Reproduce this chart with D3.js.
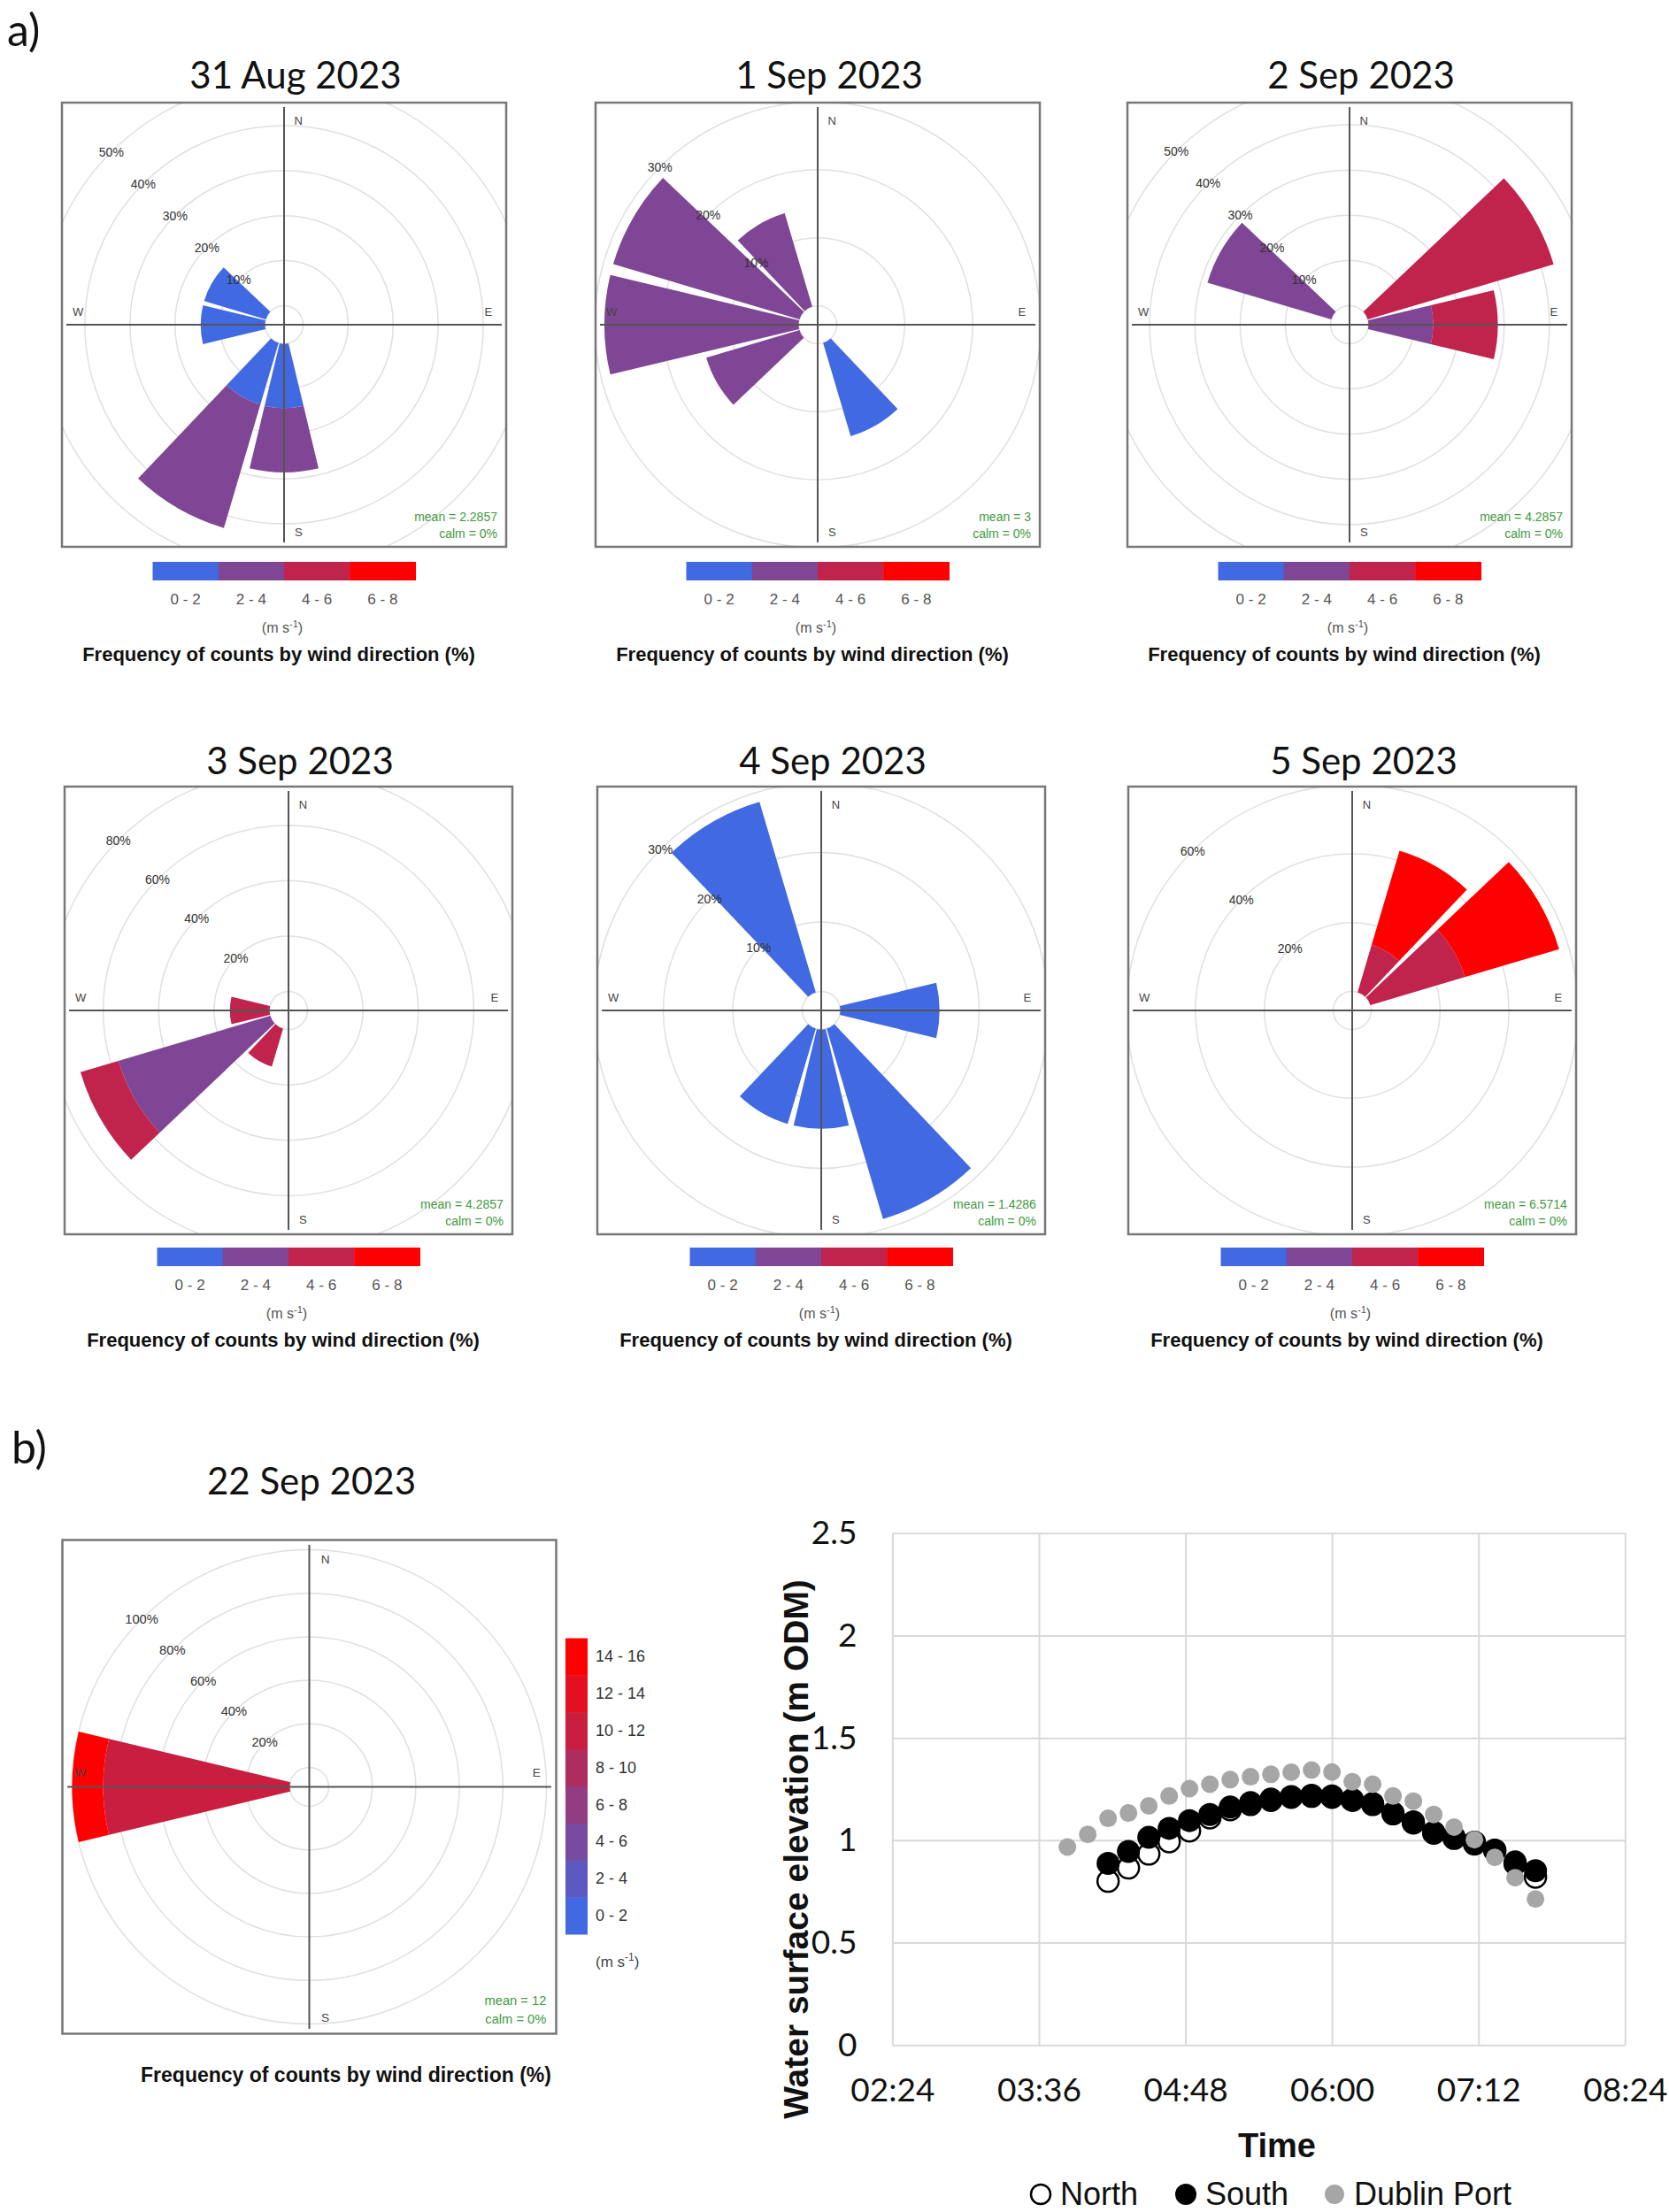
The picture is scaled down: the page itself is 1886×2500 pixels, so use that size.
<!DOCTYPE html>
<html>
<head>
<meta charset="utf-8">
<script src="https://cdn.jsdelivr.net/npm/d3@7"></script>
<style>
  body { margin: 0; background: #fff; }
  text { font-family: "Liberation Sans", Arial, sans-serif; }
  .cal { font-family: Lato, "Open Sans", sans-serif; }
</style>
</head>
<body>
<svg id="fig" width="1886" height="2500"></svg>
<script>
// ---- wind rose data (percent of counts, per speed bin) ----
const roseDates = ["31 Aug 2023", "1 Sep 2023", "2 Sep 2023", "3 Sep 2023", "4 Sep 2023", "5 Sep 2023"];
const roseMeans = ["2.2857", "3", "4.2857", "4.2857", "1.4286", "6.5714"];
const roseTicks = [[10, 20, 30, 40, 50], [10, 20, 30], [10, 20, 30, 40, 50], [20, 40, 60, 80], [10, 20, 30], [20, 40, 60]];
const speedBins = ["0 - 2", "2 - 4", "4 - 6", "6 - 8"];
// [direction, 0-2, 2-4, 4-6, 6-8]
const aug31 = [[300, 14.29, 0, 0, 0], [270, 14.29, 0, 0, 0], [210, 14.29, 28.57, 0, 0], [180, 14.29, 14.29, 0, 0]];
const sep1 = [[330, 0, 14.29, 0, 0], [300, 0, 28.57, 0, 0], [270, 0, 28.57, 0, 0], [240, 0, 14.29, 0, 0], [150, 14.29, 0, 0, 0]];
const sep2 = [[300, 0, 28.57, 0, 0], [60, 0, 0, 42.86, 0], [90, 0, 14.29, 14.29, 0]];
const sep3 = [[270, 0, 0, 14.29, 0], [240, 0, 57.14, 14.29, 0], [210, 0, 0, 14.29, 0]];
const sep4 = [[330, 28.57, 0, 0, 0], [90, 14.29, 0, 0, 0], [150, 28.57, 0, 0, 0], [180, 14.29, 0, 0, 0], [210, 14.29, 0, 0, 0]];
const sep5 = [[30, 0, 0, 14.29, 28.57], [60, 0, 0, 28.57, 28.57]];
const rosePetals = [aug31, sep1, sep2, sep3, sep4, sep5];

const sep22Date = "22 Sep 2023";
const sep22Mean = "12";
const sep22Ticks = [20, 40, 60, 80, 100];
const speedBins22 = ["0 - 2", "2 - 4", "4 - 6", "6 - 8", "8 - 10", "10 - 12", "12 - 14", "14 - 16"];
const sep22 = [[270, 0, 0, 0, 0, 0, 85.71, 0, 14.29]];

// ---- water level data (m ODM) ----
const xTickLabels = ["02:24", "03:36", "04:48", "06:00", "07:12", "08:24"];
const yTickValues = [0, 0.5, 1, 1.5, 2, 2.5];
const portTimes = ["03:50", "04:00", "04:10", "04:20", "04:30", "04:40", "04:50", "05:00", "05:10", "05:20", "05:30", "05:40",
  "05:50", "06:00", "06:10", "06:20", "06:30", "06:40", "06:50", "07:00", "07:10", "07:20", "07:30", "07:40"];
const portLevel = [0.967, 1.029, 1.107, 1.133, 1.168, 1.216, 1.252, 1.274, 1.296, 1.310, 1.322, 1.332,
  1.343, 1.333, 1.286, 1.274, 1.216, 1.191, 1.126, 1.064, 1.003, 0.916, 0.817, 0.713];
const siteTimes = ["04:10", "04:20", "04:30", "04:40", "04:50", "05:00", "05:10", "05:20", "05:30", "05:40",
  "05:50", "06:00", "06:10", "06:20", "06:30", "06:40", "06:50", "07:00", "07:10", "07:20", "07:30", "07:40"];
const northLevel = [0.800, 0.865, 0.933, 0.993, 1.046, 1.11, 1.15, 1.175, 1.195, 1.21,
  1.215, 1.21, 1.195, 1.175, 1.13, 1.085, 1.035, 1.01, 0.99, 0.95, 0.885, 0.82];
const southLevel = [0.887, 0.945, 1.014, 1.058, 1.096, 1.126, 1.162, 1.184, 1.201, 1.213,
  1.220, 1.217, 1.199, 1.180, 1.133, 1.090, 1.039, 1.017, 0.981, 0.952, 0.894, 0.851];

const svg = d3.select("#fig");
svg.append("rect").attr("width", 1886).attr("height", 2500).attr("fill", "#fff");

const ramp = (n) => d3.range(n).map((i) => d3.interpolateRgb("#4169e1", "#ff0000")(i / (n - 1)));

function drawRose(o) {
  const h = o.half;
  const k = o.fs;
  const g = svg.append("g").attr("transform", `translate(${o.cx},${o.cy})`);
  const clipId = `rose-clip-${o.id}`;
  g.append("clipPath").attr("id", clipId)
    .append("rect").attr("x", -h).attr("y", -h).attr("width", 2 * h).attr("height", 2 * h);
  const inner = g.append("g").attr("clip-path", `url(#${clipId})`);

  const r = d3.scaleLinear().domain([0, d3.max(o.ticks)]).range([o.r0, o.rMax]);

  inner.selectAll("circle")
    .data([0, ...o.ticks])
    .enter()
    .append("circle")
    .attr("r", (d) => r(d))
    .attr("fill", "none")
    .attr("stroke", "#e0e0e0")
    .attr("stroke-width", 1.5);

  const colors = ramp(o.nBins);
  const segs = [];
  o.petals.forEach((p) => {
    let cum = 0;
    p.slice(1).forEach((v, i) => {
      if (v > 0) {
        segs.push({ dir: p[0], a: cum, b: cum + v, bin: i });
        cum += v;
      }
    });
  });
  const arc = d3.arc();
  inner.selectAll("path")
    .data(segs)
    .enter()
    .append("path")
    .attr("d", (s) => arc({
      innerRadius: r(s.a),
      outerRadius: r(s.b),
      startAngle: ((s.dir - 13.5) * Math.PI) / 180,
      endAngle: ((s.dir + 13.5) * Math.PI) / 180,
    }))
    .attr("fill", (s) => colors[s.bin]);

  const ext = 0.98 * h;
  g.append("line").attr("x1", -ext).attr("x2", ext).attr("y1", 0).attr("y2", 0)
    .attr("stroke", "#555").attr("stroke-width", 2);
  g.append("line").attr("y1", -ext).attr("y2", ext).attr("x1", 0).attr("x2", 0)
    .attr("stroke", "#555").attr("stroke-width", 2);

  g.selectAll("text.ring")
    .data(o.ticks)
    .enter()
    .append("text")
    .attr("x", (d) => -r(d) * Math.SQRT1_2)
    .attr("y", (d) => -r(d) * Math.SQRT1_2)
    .attr("text-anchor", "middle")
    .attr("dominant-baseline", "central")
    .attr("fill", "#333")
    .style("font-size", `${14 * k}px`)
    .text((d) => `${d}%`);

  const card = [["N", 0.065, -0.92], ["E", 0.92, -0.056], ["S", 0.065, 0.935], ["W", -0.928, -0.056]];
  g.selectAll("text.card")
    .data(card)
    .enter()
    .append("text")
    .attr("x", (d) => d[1] * h)
    .attr("y", (d) => d[2] * h)
    .attr("text-anchor", "middle")
    .attr("dominant-baseline", "central")
    .attr("fill", "#444")
    .style("font-size", `${13 * k}px`)
    .text((d) => d[0]);

  g.append("text").attr("x", 0.96 * h).attr("y", 0.865 * h)
    .attr("text-anchor", "end").attr("dominant-baseline", "central")
    .attr("fill", "#3f9a3f").style("font-size", `${14 * k}px`)
    .text(`mean = ${o.mean}`);
  g.append("text").attr("x", 0.96 * h).attr("y", 0.94 * h)
    .attr("text-anchor", "end").attr("dominant-baseline", "central")
    .attr("fill", "#3f9a3f").style("font-size", `${14 * k}px`)
    .text("calm = 0%");

  g.append("rect").attr("x", -h).attr("y", -h).attr("width", 2 * h).attr("height", 2 * h)
    .attr("fill", "none").attr("stroke", "#777").attr("stroke-width", 2.5);

  svg.append("text").attr("class", "cal")
    .attr("x", o.cx + o.titleDx).attr("y", o.cy + o.titleDy)
    .attr("text-anchor", "middle").attr("fill", "#111")
    .style("font-size", "42px")
    .text(o.title);
}

function msLabel(sel) {
  sel.append("tspan").text("(m s");
  sel.append("tspan").attr("baseline-shift", "super").style("font-size", "70%").text("-1");
  sel.append("tspan").text(")");
}

function drawHLegend(cx, cy, labels) {
  const colors = ramp(labels.length);
  const x = d3.scaleBand().domain(labels).range([cx - 148.5, cx + 148.5]);
  const g = svg.append("g");
  g.selectAll("rect")
    .data(labels)
    .enter()
    .append("rect")
    .attr("x", (d) => x(d))
    .attr("y", cy + 268)
    .attr("width", x.bandwidth() + 0.5)
    .attr("height", 21)
    .attr("fill", (d, i) => colors[i]);
  g.selectAll("text.lab")
    .data(labels)
    .enter()
    .append("text")
    .attr("x", (d) => x(d) + x.bandwidth() / 2)
    .attr("y", cy + 316)
    .attr("text-anchor", "middle")
    .attr("fill", "#555")
    .style("font-size", "17px")
    .text((d) => d);
  g.append("text").attr("x", cx - 2).attr("y", cy + 348)
    .attr("text-anchor", "middle").attr("fill", "#555").style("font-size", "16px")
    .call(msLabel);
  g.append("text").attr("x", cx - 6).attr("y", cy + 380)
    .attr("text-anchor", "middle").attr("fill", "#111")
    .style("font-size", "22px").style("font-weight", "bold")
    .text("Frequency of counts by wind direction (%)");
}

// ---- panel a ----
svg.append("text").attr("class", "cal").attr("x", 8).attr("y", 52)
  .style("font-size", "50px").attr("fill", "#111").text("a)");

const panelCentres = [[321, 367], [924, 367], [1525, 367], [326, 1142], [928, 1142], [1528, 1142]];
const panelOuter = [276, 252, 277, 272, 257, 255];

roseDates.forEach((date, i) => {
  const [cx, cy] = panelCentres[i];
  drawRose({
    id: i, cx, cy, half: i < 3 ? 251 : 253, r0: 21.5, rMax: panelOuter[i],
    ticks: roseTicks[i], petals: rosePetals[i], nBins: speedBins.length,
    mean: roseMeans[i], fs: 1, title: date, titleDx: 13, titleDy: -267,
  });
  drawHLegend(cx, cy, speedBins);
});

// ---- panel b: wind rose ----
svg.append("text").attr("class", "cal").attr("x", 13).attr("y", 1654)
  .style("font-size", "50px").attr("fill", "#111").text("b)");

drawRose({
  id: "b", cx: 349.5, cy: 2019.5, half: 279, r0: 22, rMax: 268,
  ticks: sep22Ticks, petals: sep22, nBins: speedBins22.length,
  mean: sep22Mean, fs: 1.05, title: sep22Date, titleDx: 2.5, titleDy: -331,
});

{
  const colors = ramp(speedBins22.length);
  const y = d3.scaleBand().domain(speedBins22.slice().reverse()).range([1851.5, 2186]);
  const g = svg.append("g");
  g.selectAll("rect")
    .data(speedBins22)
    .enter()
    .append("rect")
    .attr("x", 639)
    .attr("y", (d) => y(d))
    .attr("width", 25)
    .attr("height", y.bandwidth() + 0.5)
    .attr("fill", (d, i) => colors[i]);
  g.selectAll("text")
    .data(speedBins22)
    .enter()
    .append("text")
    .attr("x", 673)
    .attr("y", (d) => y(d) + y.bandwidth() / 2)
    .attr("dominant-baseline", "central")
    .attr("fill", "#333")
    .style("font-size", "18px")
    .text((d) => d);
  g.append("text").attr("x", 673).attr("y", 2223).attr("fill", "#444")
    .style("font-size", "17px").call(msLabel);
  g.append("text").attr("x", 391).attr("y", 2353)
    .attr("text-anchor", "middle").attr("fill", "#111")
    .style("font-size", "23px").style("font-weight", "bold")
    .text("Frequency of counts by wind direction (%)");
}

// ---- panel b: water surface elevation ----
const toMin = (s) => { const [hh, mm] = s.split(":").map(Number); return hh * 60 + mm; };
const fmtMin = (m) => `${String(Math.floor(m / 60)).padStart(2, "0")}:${String(m % 60).padStart(2, "0")}`;
const xTicks = xTickLabels.map(toMin);

const xScale = d3.scaleLinear().domain([xTicks[0], xTicks[xTicks.length - 1]]).range([1008.4, 1836.3]);
const yScale = d3.scaleLinear().domain([0, 2.5]).range([2311.2, 1732.8]);

const chart = svg.append("g").attr("class", "cal");

chart.append("g")
  .attr("transform", "translate(0,2311.2)")
  .call(d3.axisBottom(xScale).tickValues(xTicks).tickFormat(fmtMin).tickSize(-(2311.2 - 1732.8)).tickPadding(38))
  .call((a) => a.select(".domain").remove())
  .call((a) => a.selectAll("line").attr("stroke", "#d9d9d9").attr("stroke-width", 2))
  .call((a) => a.selectAll("text").attr("fill", "#111").style("font-size", "37px").style("font-family", "Lato, sans-serif"));

chart.append("g")
  .attr("transform", "translate(1008.4,0)")
  .call(d3.axisLeft(yScale).tickValues(yTickValues).tickFormat(d3.format("")).tickSize(-(1836.3 - 1008.4)).tickPadding(40))
  .call((a) => a.select(".domain").remove())
  .call((a) => a.selectAll("line").attr("stroke", "#d9d9d9").attr("stroke-width", 2))
  .call((a) => a.selectAll("text").attr("fill", "#111").style("font-size", "37px").style("font-family", "Lato, sans-serif"));

chart.append("text").attr("x", 1443).attr("y", 2438).attr("text-anchor", "middle")
  .attr("fill", "#111").style("font-size", "38px").style("font-weight", "bold").text("Time");

chart.append("text")
  .attr("transform", "translate(913,2090) rotate(-90)")
  .attr("text-anchor", "middle").attr("fill", "#111")
  .style("font-size", "39px").style("font-weight", "bold")
  .text("Water surface elevation (m ODM)");

const north = siteTimes.map((t, i) => ({ t: toMin(t), v: northLevel[i] }));
const south = siteTimes.map((t, i) => ({ t: toMin(t), v: southLevel[i] }));
const port = portTimes.map((t, i) => ({ t: toMin(t), v: portLevel[i] }));

chart.append("g").selectAll("circle").data(north).enter().append("circle")
  .attr("cx", (d) => xScale(d.t)).attr("cy", (d) => yScale(d.v)).attr("r", 12)
  .attr("fill", "#fff").attr("stroke", "#000").attr("stroke-width", 2.5);
chart.append("g").selectAll("circle").data(south).enter().append("circle")
  .attr("cx", (d) => xScale(d.t)).attr("cy", (d) => yScale(d.v)).attr("r", 13)
  .attr("fill", "#000");
chart.append("g").selectAll("circle").data(port).enter().append("circle")
  .attr("cx", (d) => xScale(d.t)).attr("cy", (d) => yScale(d.v)).attr("r", 10)
  .attr("fill", "#a6a6a6");

// legend
const legendItems = [
  { name: "North", x: 1176, fill: "#fff", stroke: "#000", r: 11 },
  { name: "South", x: 1340, fill: "#000", stroke: "none", r: 12 },
  { name: "Dublin Port", x: 1508, fill: "#a6a6a6", stroke: "none", r: 11 },
];
const leg = chart.append("g").selectAll("g").data(legendItems).enter().append("g");
leg.append("circle").attr("cx", (d) => d.x).attr("cy", 2480).attr("r", (d) => d.r)
  .attr("fill", (d) => d.fill).attr("stroke", (d) => d.stroke).attr("stroke-width", 2.5);
leg.append("text").attr("x", (d) => d.x + 22).attr("y", 2492)
  .attr("fill", "#111").style("font-size", "36px").text((d) => d.name);
</script>
</body>
</html>
